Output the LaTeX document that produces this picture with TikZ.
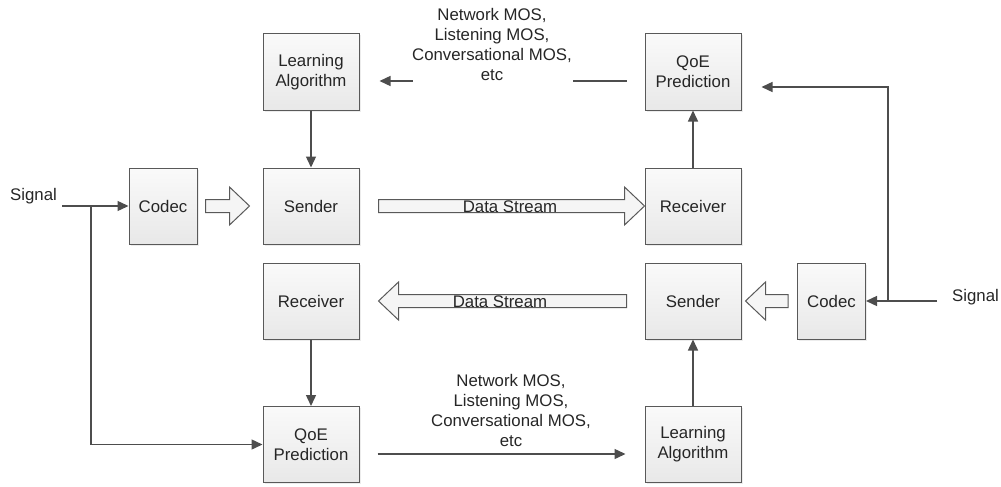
\documentclass[tikz,border=0pt]{standalone}
\usepackage{fontspec}
\setmainfont{Liberation Sans}
\usetikzlibrary{arrows.meta,calc,shadows}
\definecolor{boxline}{HTML}{595959}
\definecolor{wireline}{HTML}{4D4D4D}
\definecolor{txtgray}{HTML}{262626}

% block arrow between two named points, #3 = 1 (to the right) or -1 (to the left)
\newcommand{\fatarrow}[3]{%
  \draw[hollow] let \p1=(#1), \p2=(#2), \n1={(#3)*20pt} in
    (\x1,{\y1+6.5pt}) -- ({\x2-\n1},{\y1+6.5pt}) -- ({\x2-\n1},{\y1+19pt})
    -- (\x2,\y1) -- ({\x2-\n1},{\y1-19pt}) -- ({\x2-\n1},{\y1-6.5pt})
    -- (\x1,{\y1-6.5pt}) -- cycle;}

\begin{document}
\begin{tikzpicture}[x=1pt,y=-1pt,
      font=\fontsize{16.8}{20}\selectfont, text=txtgray,
      box/.style={rectangle,draw=boxline,line width=1pt,
                  top color=black!2,bottom color=black!9,
                  drop shadow={opacity=0.15,shadow xshift=1.5pt,shadow yshift=-1.5pt},
                  minimum width=96pt,minimum height=76pt,
                  align=center,inner sep=2pt},
      narrowbox/.style={box,minimum width=68pt},
      lbl/.style={align=center,inner sep=0pt},
      arr/.style={-{Triangle[length=11pt,width=10pt]},line width=1.4pt,draw=wireline},
      wire/.style={line width=1.4pt,draw=wireline},
      hollow/.style={draw=boxline,line width=1pt,fill=black!4}]
    \useasboundingbox (0,0) rectangle (1001,487);

    \node[box]       (learnT) at (311,72)    {Learning\\Algorithm};
    \node[box]       (qoeT)   at (693,72)    {QoE\\Prediction};
    \node[narrowbox] (codecL) at (163,206)   {Codec};
    \node[box]       (sendL)  at (311,206)   {Sender};
    \node[box]       (recvR)  at (693,206)   {Receiver};
    \node[box]       (recvL)  at (311,301)   {Receiver};
    \node[box]       (sendR)  at (693,301)   {Sender};
    \node[narrowbox] (codecR) at (831.5,301) {Codec};
    \node[box]       (qoeB)   at (311,444.5) {QoE\\Prediction};
    \node[box]       (learnB) at (693,444.5) {Learning\\Algorithm};

    \node[lbl] (sigL) at (33.5,196) {Signal};
    \node[lbl] (sigR) at (975.5,297) {Signal};
    \node[lbl] (mosT) at (492,44) {Network MOS,\\Listening MOS,\\Conversational MOS,\\etc};
    \node[lbl] (mosB) at (511,410) {Network MOS,\\Listening MOS,\\Conversational MOS,\\etc};

    \coordinate (sigLend) at (62,206);
    \coordinate (sigRend) at (937,301);
    \coordinate (jL) at (91,206);
    \coordinate (jR) at (888,301);

    % block arrows
    \fatarrow{$(codecL.east)+(8,0)$}{$(sendL.west)+(-13,0)$}{1}
    \fatarrow{$(sendL.east)+(19,0)$}{recvR.west}{1}
    \fatarrow{$(sendR.west)+(-18,0)$}{$(recvL.east)+(19,0)$}{-1}
    \fatarrow{$(codecR.west)+(-9,0)$}{$(sendR.east)+(4,0)$}{-1}
    \node[lbl,anchor=base] (dsT) at (510,212) {Data Stream};
    \node[lbl,anchor=base] (dsB) at (500,307) {Data Stream};

    % signal paths
    \draw[arr] (sigLend) -- (codecL.west);
    \draw[arr] (jL) |- (qoeB.west);
    \draw[arr] (sigRend) -- (codecR.east);
    \draw[arr] (jR) |- ($(qoeT.east)+(20,15)$);

    \draw[arr] (learnT) -- (sendL);
    \draw[arr] (recvR) -- (qoeT);
    \draw[arr] (recvL) -- (qoeB);
    \draw[arr] (learnB) -- (sendR);

    % feedback
    \draw[wire] ($(qoeT.west)+(-18,9)$) -- ($(qoeT.west)+(-72,9)$);
    \draw[arr] ($(learnT.east)+(53,9)$) -- ($(learnT.east)+(20,9)$);
    \draw[arr] ($(qoeB.east)+(18,9.5)$) -- ($(learnB.west)+(-19,9.5)$);
  \end{tikzpicture}
\end{document}
